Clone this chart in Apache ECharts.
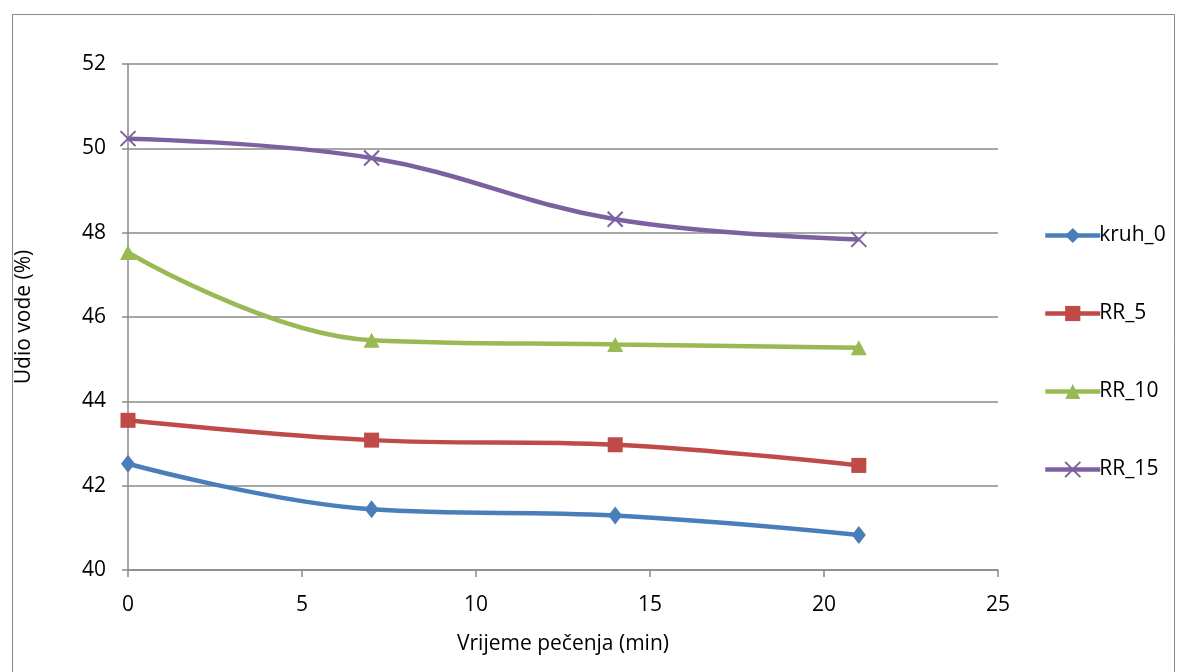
<!DOCTYPE html>
<html>
<head>
<meta charset="utf-8">
<script src="https://cdn.jsdelivr.net/npm/echarts@6/dist/echarts.min.js"></script>
<style>html,body{margin:0;padding:0;background:#fff}#c{width:1182px;height:672px}</style>
</head>
<body>
<div id="c"></div>
<script>
const times = [0, 7, 14, 21];
const kruh_0 = [42.52, 41.44, 41.29, 40.83];
const RR_5 = [43.55, 43.08, 42.97, 42.48];
const RR_10 = [47.53, 45.45, 45.35, 45.27];
const RR_15 = [50.23, 49.77, 48.32, 47.84];
const seriesNames = ['kruh_0', 'RR_5', 'RR_10', 'RR_15'];
const yTicks = [40, 42, 44, 46, 48, 50, 52];
const xTicks = [0, 5, 10, 15, 20, 25];

const FONT = 'Open Sans';
const FS = 21;
const colors = ['#4a7ebb', '#be4b48', '#98b954', '#7d60a0'];
const symbols = ['diamond', 'rect', 'triangle', 'path://M0,0L10,10M10,0L0,10'];
const sizes = [[14, 18], 15, [16, 15], 15];
const dataSets = [kruh_0, RR_5, RR_10, RR_15];

const chart = echarts.init(document.getElementById('c'));
chart.setOption({
  animation: false,
  backgroundColor: '#fff',
  textStyle: { fontFamily: FONT },
  graphic: [{
    type: 'rect', left: 10, top: 12,
    shape: { width: 1162, height: 680 },
    style: { fill: 'none', stroke: '#8a8a8a', lineWidth: 1 },
    silent: true
  }],
  grid: { left: 128, right: 184, top: 64, bottom: 102 },
  legend: {
    orient: 'vertical', left: 1038, top: 220,
    itemWidth: 55, itemHeight: 19, itemGap: 57,
    lineStyle: { width: 4.5 },
    textStyle: { fontFamily: FONT, fontSize: FS, color: '#000', padding: [0, 0, 0, -6] },
    data: seriesNames
  },
  xAxis: {
    type: 'value', min: xTicks[0], max: xTicks[xTicks.length - 1], interval: 5,
    name: 'Vrijeme pečenja (min)', nameLocation: 'middle', nameGap: 64,
    nameTextStyle: { fontFamily: FONT, fontSize: FS, color: '#000' },
    axisLine: { show: true, lineStyle: { color: '#8a8a8a', width: 1.5 } },
    axisTick: { show: true, length: 7, lineStyle: { color: '#8a8a8a', width: 1.5 } },
    axisLabel: { fontFamily: FONT, fontSize: FS, color: '#000', margin: 25 },
    splitLine: { show: false }
  },
  yAxis: {
    type: 'value', min: yTicks[0], max: yTicks[yTicks.length - 1], interval: 2,
    name: 'Udio vode (%)', nameLocation: 'middle', nameGap: 93,
    nameTextStyle: { fontFamily: FONT, fontSize: FS, color: '#000' },
    axisLine: { show: true, lineStyle: { color: '#8a8a8a', width: 1.5 } },
    axisTick: { show: true, length: 6, lineStyle: { color: '#8a8a8a', width: 1.5 } },
    axisLabel: { fontFamily: FONT, fontSize: FS, color: '#000', margin: 22 },
    splitLine: { show: true, lineStyle: { color: '#8a8a8a', width: 1.5 } }
  },
  series: seriesNames.map((n, i) => ({
    name: n,
    type: 'line',
    smooth: 0.4,
    data: times.map((t, j) => [t, dataSets[i][j]]),
    symbol: symbols[i],
    symbolSize: sizes[i],
    showAllSymbol: true,
    lineStyle: { color: colors[i], width: 4.5 },
    itemStyle: i === 3
      ? { color: colors[i], borderColor: colors[i], borderWidth: 2, opacity: 1 }
      : { color: colors[i], borderWidth: 0 },
    z: 2 + i
  }))
});
</script>
</body>
</html>
